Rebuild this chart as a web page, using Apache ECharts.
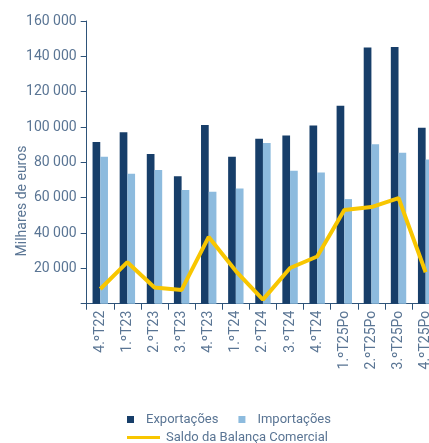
<!DOCTYPE html>
<html>
<head>
<meta charset="utf-8">
<script src="https://cdn.jsdelivr.net/npm/echarts@6/dist/echarts.min.js"></script>
<style>
  html, body { margin: 0; padding: 0; background: #fff; overflow: hidden; }
  /* a bit wider than the window: the last category is cut off on the right */
  #main { width: 445px; height: 443px; }
</style>
</head>
<body>
<div id="main"></div>
<script>
// trimestres
var categories = ['4.ºT22', '1.ºT23', '2.ºT23', '3.ºT23', '4.ºT23', '1.ºT24', '2.ºT24',
  '3.ºT24', '4.ºT24', '1.ºT25Po', '2.ºT25Po', '3.ºT25Po', '4.ºT25Po'];
// milhares de euros
var exportacoes = [91500, 97100, 84700, 72200, 101100, 83100, 93300, 95200, 100900, 112000, 145000, 145300, 99600];
var importacoes = [83100, 73600, 75600, 64400, 63300, 65200, 90900, 75200, 74200, 59200, 90300, 85400, 81600];
var saldo = [8300, 23500, 9200, 7800, 37800, 18500, 2300, 20200, 26700, 53000, 54700, 59800, 17800];

var textColor = '#5a7594';
var axisColor = '#2e5379';

// separador de milhares com espaco
function fmt(v) {
  return String(v).replace(/\B(?=(\d{3})+(?!\d))/g, ' ');
}

var myChart = echarts.init(document.getElementById('main'));
myChart.setOption({
  animation: false,
  textStyle: { fontFamily: 'Roboto' },
  grid: { left: 86.7, top: 21, width: 352.5, bottom: 139.3, containLabel: false },
  legend: [
    {
      data: ['Exportações', 'Importações'],
      left: 127, top: 413, padding: 0,
      icon: 'rect', itemWidth: 7, itemHeight: 7, itemGap: 20,
      textStyle: { color: textColor, fontSize: 13, padding: [0, 0, 0, 7] }
    },
    {
      data: ['Saldo da Balança Comercial'],
      left: 127, top: 431, padding: 0,
      icon: 'rect', itemWidth: 33, itemHeight: 3,
      textStyle: { color: textColor, fontSize: 13, padding: [0, 0, 0, 1] }
    }
  ],
  graphic: [{
    type: 'text',
    x: 22, y: 201,
    rotation: Math.PI / 2,
    style: {
      text: 'Milhares de euros',
      fill: textColor,
      font: '14px Roboto',
      align: 'center',
      verticalAlign: 'middle'
    }
  }],
  xAxis: {
    type: 'category',
    data: categories,
    axisLine: { lineStyle: { color: axisColor, width: 1 } },
    axisTick: { show: true, length: 6, lineStyle: { color: axisColor } },
    axisLabel: { rotate: 90, color: textColor, fontSize: 14, margin: 7 }
  },
  yAxis: {
    type: 'value',
    min: 0, max: 160000, interval: 20000,
    splitLine: { show: false },
    axisLine: { show: true, lineStyle: { color: axisColor, width: 1 } },
    axisTick: { show: true, length: 6, lineStyle: { color: axisColor } },
    axisLabel: {
      color: textColor, fontSize: 14, margin: 10,
      formatter: function (v) { return v === 0 ? '' : fmt(v); }
    }
  },
  series: [
    {
      name: 'Exportações',
      type: 'bar',
      data: exportacoes,
      barWidth: 7.7,
      barGap: '0%',
      itemStyle: { color: '#173e69' }
    },
    {
      name: 'Importações',
      type: 'bar',
      data: importacoes,
      barWidth: 7.7,
      itemStyle: { color: '#8dbbde' }
    },
    {
      name: 'Saldo da Balança Comercial',
      type: 'line',
      data: saldo,
      symbol: 'none',
      lineStyle: { color: '#f8c600', width: 4 },
      itemStyle: { color: '#f8c600' }
    }
  ]
});
</script>
</body>
</html>
